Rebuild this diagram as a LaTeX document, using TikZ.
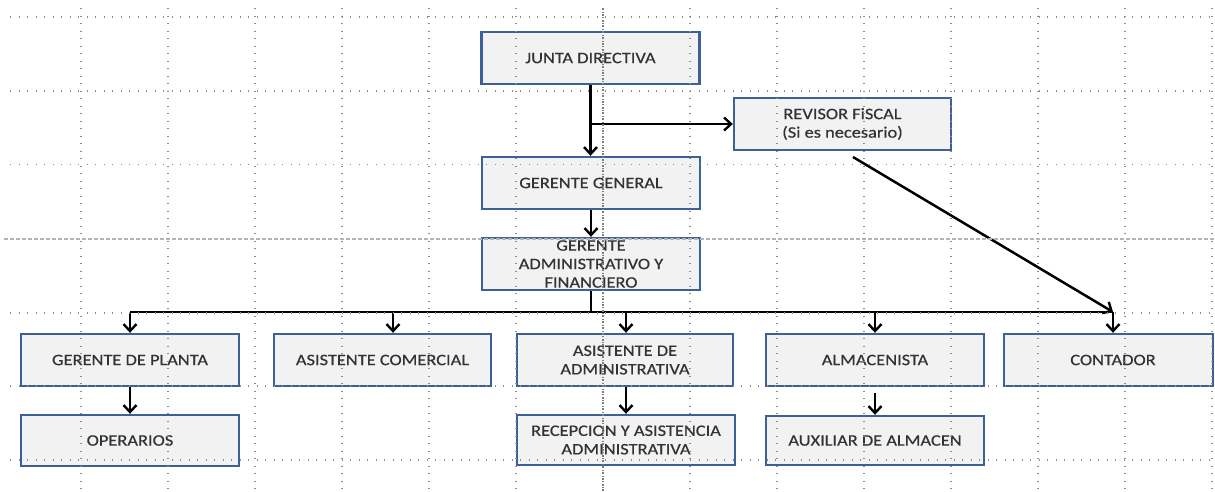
\documentclass[tikz,border=0pt]{standalone}
\usepackage{fontspec}
\setmainfont{Carlito}[FakeStretch=1.15,FakeBold=0.5]
\usetikzlibrary{arrows.meta,calc}
\definecolor{boxfill}{HTML}{F2F2F2}
\definecolor{boxline}{HTML}{3B6196}
\definecolor{txt}{HTML}{333333}
\definecolor{gridc}{HTML}{8C8C8C}
\tikzset{
  orgbox/.style={draw=boxline, line width=2.4pt, fill=boxfill, minimum width=218pt,
    minimum height=52pt, inner sep=0pt, align=center, text=txt,
    font=\fontsize{16}{18.5}\selectfont},
  conn/.style={line width=2.5pt, black, -{Straight Barb[length=7pt,width=13pt,line width=2.4pt]}},
  plain/.style={line width=2.7pt, black},
  gridh/.style={gridc, line width=1.3pt, dash pattern=on 1.3pt off 7.2pt},
  gridv/.style={gridc, line width=1.3pt, dash pattern=on 1.3pt off 6.2pt},
  gridhd/.style={gridc!65, line width=1.3pt, dash pattern=on 3.5pt off 2.5pt},
  gridvd/.style={gridc!90!black, line width=1.1pt, dash pattern=on 2pt off 1.5pt on 0.8pt off 1.5pt}
}
\begin{document}
\begin{tikzpicture}[x=1pt,y=-1pt]
\useasboundingbox[fill=white] (0,0) rectangle (1215,491);

% boxes
\node[orgbox] (junta) at (590.5,58) {JUNTA DIRECTIVA};
\node[orgbox, minimum width=217pt] (revisor) at (842.5,124) {REVISOR FiSCAL\\(Si es necesario)};
\node[orgbox] (gg) at (591,183) {GERENTE GENERAL};
\node[orgbox] (gaf) at (591,264) {GERENTE\\ADMINISTRATIVO Y\\FINANCIERO};
\node[orgbox] (planta) at (130,360) {GERENTE DE PLANTA};
\node[orgbox, minimum width=217pt] (comercial) at (382.5,360) {ASISTENTE COMERCIAL};
\node[orgbox, minimum width=216pt] (asistadm) at (625,360) {ASISTENTE DE\\ADMINISTRATIVA};
\node[orgbox] (almac) at (875,360) {ALMACENISTA};
\node[orgbox, minimum width=209pt] (contador) at (1108.5,360) {\hspace*{9pt}CONTADOR};
\node[orgbox, minimum height=51pt] (operarios) at (130,440.5) {OPERARIOS};
\node[orgbox, minimum height=50pt] (recepcion) at (626,440) {RECEPCION Y ASISTENCIA\\ADMINISTRATIVA};
\node[orgbox, minimum height=49pt] (auxiliar) at (875,440.5) {AUXILIAR DE ALMACEN};

% coordinates
\coordinate (busL) at (130,312);
\coordinate (busR) at (1113,312);
\coordinate (dB) at (393,312);
\coordinate (dC) at (626,312);
\coordinate (dD) at (875,312);
\coordinate (rvs) at (853,157);
\coordinate (almS) at (875,393);

% connectors
\draw[conn] (junta.south) -- (junta.south |- gg.north);
\draw[conn] (revisor.west -| junta.south) -- (revisor.west);
\draw[conn] (gg.south) -- (gaf.north);
\draw[plain] (gaf.south) -- (gaf.south |- busL);
\draw[plain] (busL) -- (busR);
\draw[conn] (busL) -- (planta.north);
\draw[conn] (dB) -- (dB |- comercial.north);
\draw[conn] (dC) -- (dC |- asistadm.north);
\draw[conn] (dD) -- (dD |- almac.north);
\draw[conn] (busR) -- (busR |- contador.north);
\draw[conn] (rvs) -- (busR);
\draw[conn] (planta.south) -- (operarios.north);
\draw[conn] (asistadm.south -| recepcion.north) -- (recepcion.north);
\draw[conn] (almS) -- (almS |- auxiliar.north);

% grid (drawn on top)
\foreach \yy in {17,91,164.5,313,386,460} {
  \draw[gridh] (10,\yy) -- (1215,\yy);
}
\draw[gridhd] (4,239) -- (1215,239);
\foreach \xx in {81,168,255,342,429,516,690,777,864,951,1038,1125,1212} {
  \draw[gridv] (\xx,8) -- (\xx,491);
}
\draw[gridvd] (603,8) -- (603,491);
\end{tikzpicture}
\end{document}
